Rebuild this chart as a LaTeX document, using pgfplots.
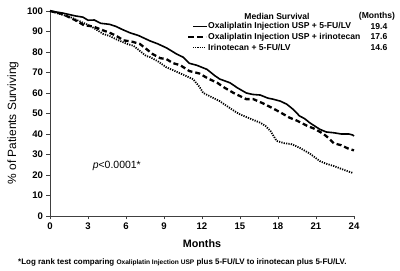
\documentclass[border=0pt]{standalone}
\usepackage{fontspec}
\setmainfont{Liberation Sans}
\usepackage{pgfplots}
\pgfplotsset{compat=1.18}

% Kaplan-Meier estimates, % of patients surviving by month
\pgfplotstableread{
m s
0 100
0.5 99.5
1 99
1.5 98.3
2 97.6
2.6 97
3 95.5
3.5 95.6
4 94
4.7 93.5
5.2 92.5
5.7 91
6.3 89.4
7 88
7.9 85.4
8.5 84
9.2 82
10 79
10.5 77.5
11 74.5
11.6 73.5
12.4 71.5
13 68.5
13.4 66.8
14.2 65
14.8 62.5
15.5 60
16 59.3
16.6 59
17.2 57.5
17.6 57
18.2 56
18.7 54.5
19.2 52
19.7 48.8
20.1 47.5
20.5 45.5
21 43.5
21.3 42.3
21.8 41
22.4 40.6
23 40
23.6 40
23.9 39.5
24 39
}\oxfu

\pgfplotstableread{
m s
0 100
1 98.5
2 95.5
2.7 93
3.4 92.5
4 91
4.7 89.4
5.2 88
5.8 85.7
6.5 85
7.1 83.9
7.6 81.5
8.1 79
8.7 77
9.2 76.5
9.7 74.6
10.3 73.5
11 70.7
11.8 69.5
12.5 67
13.2 65
13.8 62.5
14.5 60
15 58.5
15.5 57
16.05 57
16.8 55
17.6 52.5
18.2 50.5
18.9 48
19.5 46.5
20.3 44
20.9 42.5
21.6 40
22 38
22.4 35.5
23 34.5
23.5 33
24 32
}\oxir

\pgfplotstableread{
m s
0 100
0.8 98.5
1.6 97
2.6 94.3
3.2 92.7
4.2 88.8
4.7 87.8
5.3 86
6.1 83.9
6.6 83
7.6 78
7.9 77.5
8.5 75.5
9.2 72.5
10.5 69
11.3 66.7
11.8 63
12.1 60
12.6 58.5
13.4 56
14 53.5
14.6 51
15 49.6
15.8 47.5
16.6 45.5
17 44
17.4 41.5
17.9 36.6
18.5 35.5
19.1 35
19.7 33.3
20.5 30.5
21.3 26.8
21.8 25.5
22.4 24.4
23.2 22.5
23.9 21
}\irfu

\begin{document}
\begin{tikzpicture}
\useasboundingbox (0,0) rectangle (400bp,271bp);
\begin{axis}[
  at={(50bp,55bp)}, anchor=origin,
  scale only axis, width=304bp, height=205bp,
  xmin=0, xmax=24, ymin=0, ymax=100,
  axis x line=bottom, axis y line=left,
  axis line style={-, black!75, line width=0.8bp},
  xtick={0,3,...,24}, ytick={0,10,...,100},
  tick align=outside, major tick length=3.5bp,
  tick style={black!75, line width=0.7bp},
  ticklabel style={font=\bfseries\fontsize{9.6}{11}\selectfont},
  /pgf/number format/assume math mode=true,
  clip=false,
]
\addplot[black, line width=1.6bp] table[x=m, y=s] {\oxfu};
\addplot[black, line width=2.3bp, dash pattern=on 5bp off 3bp] table[x=m, y=s] {\oxir};
\addplot[black, line width=1.8bp, dash pattern=on 1.2bp off 1.2bp] table[x=m, y=s] {\irfu};
\node[anchor=west, font=\fontsize{10.5}{12}\selectfont] at (axis cs:3.1,24.5) {\textit{p}<0.0001*};
\end{axis}

% axis titles
\node[rotate=90, font=\fontsize{12}{14}\selectfont] at (13bp,148bp) {\% of Patients Surviving};
\node[font=\bfseries\fontsize{10.8}{12}\selectfont] at (202bp,27bp) {Months};

% legend
\begin{scope}[font=\bfseries\fontsize{8.6}{10}\selectfont]
\node at (277bp,255bp) {Median Survival};
\node at (377bp,255bp) {(Months)};
\draw[black, line width=1.2bp] (193bp,244.5bp) -- (207bp,244.5bp);
\draw[black, line width=2bp, dash pattern=on 6bp off 3bp] (188bp,234bp) -- (206bp,234bp);
\draw[black, line width=1.4bp, dash pattern=on 1.1bp off 1.1bp] (193bp,223.5bp) -- (206bp,223.5bp);
\node[anchor=west, inner sep=0pt] at (208bp,244.5bp) {Oxaliplatin Injection USP + 5-FU/LV};
\node[anchor=west, inner sep=0pt] at (208bp,234bp) {Oxaliplatin Injection USP + irinotecan};
\node[anchor=west, inner sep=0pt] at (208bp,223.5bp) {Irinotecan + 5-FU/LV};
\node at (379bp,244.5bp) {19.4};
\node at (379bp,234bp) {17.6};
\node at (379bp,223.5bp) {14.6};
\end{scope}

% footnote
\node[anchor=west, inner sep=0pt, font=\bfseries\fontsize{8}{9}\selectfont] at (18bp,8.5bp)
  {*Log rank test comparing {\fontsize{6.6}{8}\selectfont Oxaliplatin Injection USP} plus 5-FU/LV to irinotecan plus 5-FU/LV.};
\end{tikzpicture}
\end{document}
